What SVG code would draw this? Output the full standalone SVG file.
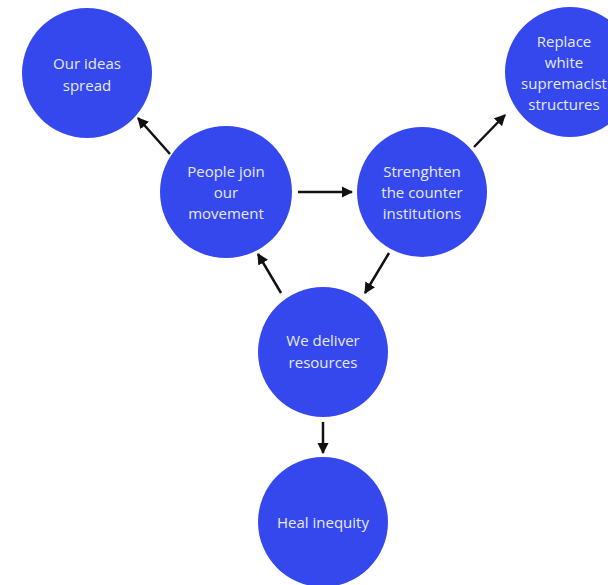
<svg xmlns="http://www.w3.org/2000/svg" width="608" height="585" viewBox="0 0 608 585">
<style>
.node{fill:#3548ee}
.t{font-family:"Open Sans","Liberation Sans",sans-serif;font-size:15px;fill:#e6eaf8;text-anchor:middle}
.c{stroke:#111;stroke-width:2.5;fill:none;marker-end:url(#ah)}
</style>
<defs>
<marker id="ah" viewBox="0 0 10 10" refX="9" refY="5" markerWidth="4.5" markerHeight="4.5" orient="auto" markerUnits="strokeWidth">
<path d="M0,0 L10,5 L0,10 z" fill="#111"/>
</marker>
</defs>
<rect width="608" height="585" fill="#ffffff"/>
<g id="connectors">
<line class="c" x1="170" y1="154" x2="138" y2="118"/>
<line class="c" x1="298" y1="192" x2="352" y2="192"/>
<line class="c" x1="474" y1="147" x2="505" y2="115"/>
<line class="c" x1="389" y1="253" x2="365" y2="293"/>
<line class="c" x1="281" y1="293" x2="258" y2="254"/>
<line class="c" x1="323" y1="422" x2="323" y2="453"/>
</g>
<g id="n-ideas">
<circle class="node" cx="87" cy="73" r="65"/>
<text class="t" x="87" y="69">Our ideas</text>
<text class="t" x="87" y="91">spread</text>
</g>
<g id="n-replace">
<circle class="node" cx="570" cy="72" r="65"/>
<text class="t" x="564" y="47">Replace</text>
<text class="t" x="564" y="68">white</text>
<text class="t" x="564" y="89">supremacist</text>
<text class="t" x="564" y="110">structures</text>
</g>
<g id="n-people">
<circle class="node" cx="226" cy="192" r="66"/>
<text class="t" x="226" y="177">People join</text>
<text class="t" x="226" y="198">our</text>
<text class="t" x="226" y="219">movement</text>
</g>
<g id="n-strengthen">
<circle class="node" cx="422" cy="192" r="65"/>
<text class="t" x="422" y="177">Strenghten</text>
<text class="t" x="422" y="198">the counter</text>
<text class="t" x="422" y="219">institutions</text>
</g>
<g id="n-deliver">
<circle class="node" cx="323" cy="352" r="65"/>
<text class="t" x="323" y="346">We deliver</text>
<text class="t" x="323" y="368">resources</text>
</g>
<g id="n-heal">
<circle class="node" cx="323" cy="522" r="65"/>
<text class="t" x="323" y="528">Heal inequity</text>
</g>
</svg>
